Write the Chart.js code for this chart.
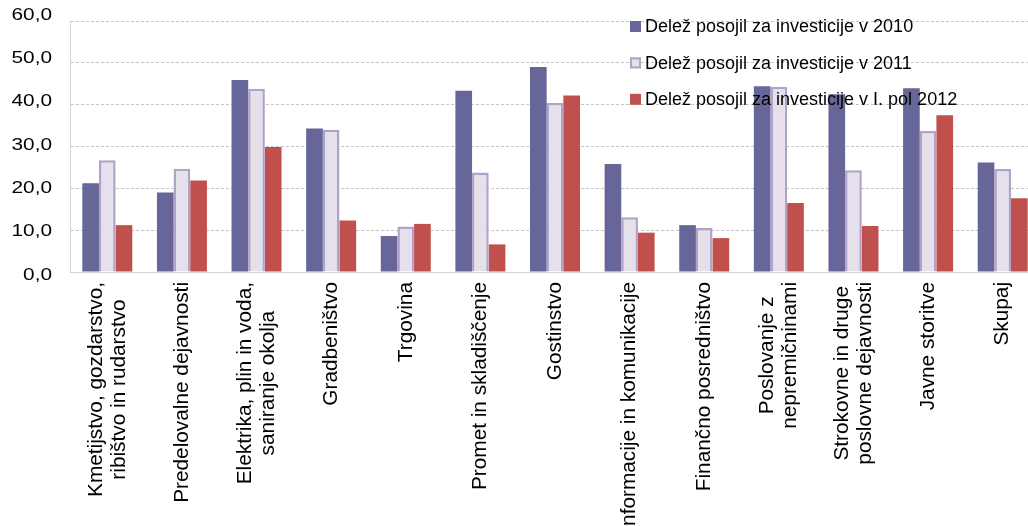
<!DOCTYPE html>
<html>
<head>
<meta charset="utf-8">
<script src="https://cdn.jsdelivr.net/npm/chart.js@4.4.0/dist/chart.umd.min.js"></script>
<style>
  html, body { margin: 0; padding: 0; background: #ffffff; overflow: hidden; }
  #wrap { position: relative; width: 1040px; height: 526px; }
</style>
</head>
<body>
<div id="wrap"><canvas id="chart" width="1040" height="526"></canvas></div>
<script>
// Dejavnosti (multi-line labels are split into lines)
const categories = [
  ['Kmetijstvo, gozdarstvo,', 'ribištvo in rudarstvo'],
  ['Predelovalne dejavnosti'],
  ['Elektrika, plin in voda,', 'saniranje okolja'],
  ['Gradbeništvo'],
  ['Trgovina'],
  ['Promet in skladiščenje'],
  ['Gostinstvo'],
  ['Informacije in komunikacije'],
  ['Finančno posredništvo'],
  ['Poslovanje z', 'nepremičninami'],
  ['Strokovne in druge', 'poslovne dejavnosti'],
  ['Javne storitve'],
  ['Skupaj']
];

const seriesNames = [
  'Delež posojil za investicije v 2010',
  'Delež posojil za investicije v 2011',
  'Delež posojil za investicije v I. pol 2012'
];

// Delež posojil za investicije (%)
const share2010 = [21.2, 19.0, 45.9, 34.3, 8.6, 43.3, 49.0, 25.8, 11.2, 44.4, 42.5, 43.9, 26.2];
const share2011 = [26.7, 24.7, 43.8, 34.0, 10.9, 23.8, 40.4, 13.1, 10.5, 44.3, 24.3, 33.7, 24.6];
const share2012 = [11.2, 21.9, 29.9, 12.3, 11.5, 6.6, 42.2, 9.4, 8.1, 16.5, 11.0, 37.5, 17.6];

const yTicks = [0, 10, 20, 30, 40, 50, 60];

const COLORS = {
  s2010: '#666699',
  s2011: '#e6e0ec',
  s2011Border: '#b3a2c7',
  s2012: '#c0504d',
  grid: '#c4c4c4',
  axis: '#d4d4d4',
  text: '#000000'
};
const FONT = '"Liberation Sans", Arial, sans-serif';

const fmt = v => v.toFixed(1).replace('.', ',');

// Y tick labels, drawn slightly widened
const yLabelsPlugin = {
  id: 'yLabels',
  afterDraw(chart) {
    const { ctx, chartArea } = chart;
    const ys = chart.scales.y;
    ctx.save();
    ctx.fillStyle = COLORS.text;
    ctx.font = '16px ' + FONT;
    ctx.textAlign = 'right';
    ctx.textBaseline = 'middle';
    yTicks.forEach(v => {
      const py = ys.getPixelForValue(v);
      const ly = chartArea.top - 5.7 + (py - chartArea.top) * 1.036;
      ctx.save();
      ctx.translate(chartArea.left - 18, ly);
      ctx.scale(1.3, 1);
      ctx.fillText(fmt(v), 0, 0);
      ctx.restore();
    });
    ctx.restore();
  }
};

// Category labels rotated 90°, lines centred within each block
const xLabelsPlugin = {
  id: 'xLabels',
  afterDraw(chart) {
    const { ctx, chartArea } = chart;
    const xs = chart.scales.x;
    ctx.save();
    ctx.fillStyle = COLORS.text;
    ctx.font = '20.8px ' + FONT;
    ctx.textAlign = 'center';
    ctx.textBaseline = 'middle';
    const lineH = 23;
    chart.data.labels.forEach((lines, i) => {
      const x = xs.getPixelForValue(i);
      const L = Math.max(...lines.map(l => ctx.measureText(l).width));
      ctx.save();
      ctx.translate(x, chartArea.bottom + 10);
      ctx.rotate(-Math.PI / 2);
      lines.forEach((l, j) => {
        ctx.fillText(l, -L / 2, (j - (lines.length - 1) / 2) * lineH);
      });
      ctx.restore();
    });
    ctx.restore();
  }
};

// Legend placed inside the plot, top right
const legendPlugin = {
  id: 'innerLegend',
  afterDraw(chart) {
    const { ctx } = chart;
    const x0 = 630, y0 = 26.5, step = 36.4, box = 11;
    ctx.save();
    ctx.font = '18px ' + FONT;
    ctx.textBaseline = 'middle';
    ctx.textAlign = 'left';
    chart.data.datasets.forEach((ds, i) => {
      const cy = y0 + i * step;
      ctx.fillStyle = ds.backgroundColor;
      ctx.fillRect(x0, cy - box / 2, box, box);
      if (ds.borderWidth) {
        ctx.strokeStyle = ds.borderColor;
        ctx.lineWidth = 2;
        ctx.strokeRect(x0 + 1, cy - box / 2 + 1, box - 2, box - 2);
      }
      ctx.fillStyle = COLORS.text;
      ctx.fillText(ds.label, x0 + 15, cy + 1);
    });
    ctx.restore();
  }
};

new Chart(document.getElementById('chart'), {
  type: 'bar',
  data: {
    labels: categories,
    datasets: [
      { label: seriesNames[0], data: share2010, backgroundColor: COLORS.s2010, borderWidth: 0 },
      { label: seriesNames[1], data: share2011, backgroundColor: COLORS.s2011, borderColor: COLORS.s2011Border, borderWidth: 2.5 },
      { label: seriesNames[2], data: share2012, backgroundColor: COLORS.s2012, borderWidth: 0 }
    ]
  },
  options: {
    responsive: false,
    animation: false,
    devicePixelRatio: 1,
    datasets: { bar: { categoryPercentage: 0.67, barPercentage: 1.0 } },
    layout: { padding: { top: 21, bottom: 254, left: 0, right: 0 } },
    plugins: { legend: { display: false }, tooltip: { enabled: false }, title: { display: false } },
    scales: {
      x: {
        grid: { display: false, drawTicks: false },
        border: { display: true, color: COLORS.axis, width: 1 },
        ticks: { display: false }
      },
      y: {
        min: 0,
        max: 60,
        ticks: { display: false, stepSize: 10 },
        grid: { color: COLORS.grid, drawTicks: false, lineWidth: 1 },
        border: { display: true, color: COLORS.axis, width: 1, dash: [3, 2] },
        afterFit(scale) { scale.width = 70; }
      }
    }
  },
  plugins: [yLabelsPlugin, xLabelsPlugin, legendPlugin]
});
</script>
</body>
</html>
